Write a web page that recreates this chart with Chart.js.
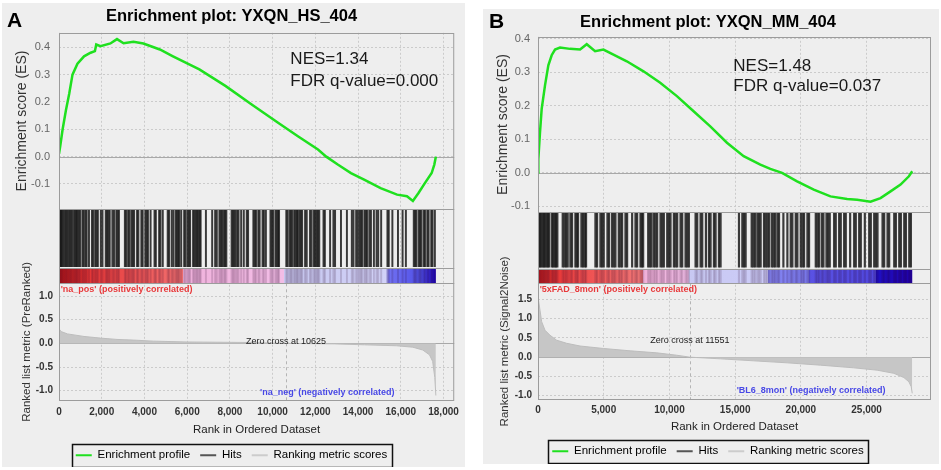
<!DOCTYPE html>
<html>
<head>
<meta charset="utf-8">
<script src="https://cdn.jsdelivr.net/npm/chart.js@4.4.1/dist/chart.umd.min.js"></script>
<style>
  body { margin: 0; background: #fff; width: 941px; height: 470px; position: relative; overflow: hidden; }
  .panel { position: absolute; background: #eeeeee; }
  .letter { position: absolute; font: bold 21px "Liberation Sans", Arial, sans-serif; color: #000; }
</style>
</head>
<body>
<div class="panel" style="left:2px;top:3px;width:463px;height:464px"><canvas id="chartA"></canvas></div>
<div class="panel" style="left:483px;top:9px;width:456px;height:455px"><canvas id="chartB"></canvas></div>
<div class="letter" style="left:7px;top:8px">A</div>
<div class="letter" style="left:489px;top:9px">B</div>
<script>
// Two GSEA enrichment plots.

// --- Panel A : YXQN_HS_404 (PreRanked) ---
const esRankA  = [0, 60, 170, 324, 478, 632, 864, 1172, 1480, 1681, 1744, 1943, 2406, 2715, 3023, 3486, 3950, 4720, 5335, 6570, 7806, 9036, 10272, 11200, 12123, 12509, 13048, 13665, 14282, 15053, 15824, 16287, 16565, 16828, 17134, 17444, 17568, 17640];
const esScoreA = [0.01, 0.04, 0.10, 0.17, 0.23, 0.30, 0.34, 0.367, 0.38, 0.386, 0.41, 0.404, 0.414, 0.43, 0.415, 0.42, 0.414, 0.392, 0.367, 0.319, 0.258, 0.19, 0.123, 0.074, 0.026, 0.0, -0.029, -0.06, -0.084, -0.115, -0.139, -0.145, -0.162, -0.133, -0.096, -0.06, -0.029, 0.0];
const hitRanksA = [46, 92, 139, 200, 262, 324, 385, 447, 509, 570, 632, 709, 771, 817, 863, 925, 987, 1095, 1156, 1233, 1295, 1403, 1542, 1603, 1696, 1758, 1819,
  1958, 2035, 2189, 2251, 2313, 2374, 2498, 2575, 2683, 2745, 2806, 3084, 3146, 3238, 3300, 3392, 3454, 3516, 3654, 3716, 3855, 3917, 4040, 4102, 4163, 4287,
  4472, 4533, 4687, 4749, 4857, 5088, 5150, 5273, 5351, 5458, 5520, 5582, 5628, 5721, 5859, 5921, 6014, 6075, 6137, 6276, 6337, 6399, 6461, 6522, 6584, 6630,
  6877, 7170, 7309, 7386, 7509, 7571, 7633, 7710, 7771, 7833, 8080, 8142, 8203, 8265, 8342, 8404, 8527, 8650, 8789, 8851, 9098, 9159, 9221, 9329, 9391, 9529,
  9591, 9684, 9899, 9961, 10023, 10131, 10192, 10254, 10300, 10640, 10701, 10794, 10855, 10917, 11010, 11071, 11133, 11179, 11256, 11318, 11380, 11519, 11596,
  11750, 11827, 11935, 11997, 12058, 12120, 12182, 12382, 12444, 12690, 12845, 12922, 13199, 13477, 13708, 13785, 13909, 13986, 14063, 14124, 14186, 14294,
  14356, 14417, 14525, 14602, 14741, 14865, 14942, 15080, 15374, 15435, 15605, 15867, 16083, 16237, 16607, 16669, 16730, 16838, 16900, 16962, 17069, 17131,
  17239, 17301, 17425, 17486, 17594];
const metricRankA  = [0, 100, 400, 1170, 1943, 2715, 3486, 4410, 6000, 8800, 10625, 12900, 14300, 15800, 16560, 17030, 17340, 17490, 17590, 17640];
const metricValueA = [0.31, 0.25, 0.20, 0.147, 0.112, 0.084, 0.07, 0.048, 0.03, 0.02, 0.0, -0.01, -0.03, -0.05, -0.08, -0.14, -0.24, -0.38, -0.72, -1.1];
const xTicksA   = [0, 2000, 4000, 6000, 8000, 10000, 12000, 14000, 16000, 18000];
const esTicksA  = [-0.1, 0, 0.1, 0.2, 0.3, 0.4];
const metTicksA = [-1, -0.5, 0, 0.5, 1];

// --- Panel B : YXQN_MM_404 (Signal2Noise) ---
const esRankB  = [0, 25, 152, 280, 533, 787, 1041, 1295, 1676, 2438, 3200, 3708, 4343, 4978, 5740, 6756, 8026, 9296, 10566, 11836, 13106, 14376, 15646, 16916, 17678, 18567, 19710, 20980, 22250, 23520, 24282, 25298, 26060, 26822, 27584, 28219, 28473];
const esScoreB = [0.0, 0.04, 0.12, 0.19, 0.26, 0.32, 0.35, 0.367, 0.373, 0.369, 0.367, 0.383, 0.362, 0.367, 0.352, 0.332, 0.302, 0.268, 0.228, 0.183, 0.138, 0.089, 0.049, 0.024, 0.011, -0.001, -0.026, -0.051, -0.071, -0.079, -0.081, -0.087, -0.076, -0.056, -0.036, -0.011, 0.004];
const hitRanksB = [50, 152, 254, 355, 457, 558, 660, 762, 863, 1066, 1168, 1270, 1371, 1473, 1879, 2006, 2133, 2260, 2463, 2590, 2844, 2946, 3048, 3302, 3429,
  3556, 3657, 4368, 4495, 4749, 4876, 5003, 5283, 5410, 5638, 5765, 5892, 6146, 6273, 6400, 6654, 6781, 7162, 7416, 7543, 7797, 7899, 8001, 8382, 8509, 8636,
  8813, 8940, 9067, 9321, 9448, 9575, 9829, 9956, 10083, 10337, 10464, 10591, 10845, 10972, 11226, 11353, 11480, 11988, 12115, 12369, 12496, 12776, 13004,
  13131, 13385, 13512, 13766, 13893, 15290, 15544, 15671, 15798, 16256, 16383, 16510, 16687, 16814, 16941, 17195, 17322, 17449, 17576, 17780, 17907, 18034,
  18211, 18338, 18669, 18973, 19227, 19354, 19608, 19735, 19989, 20116, 20243, 20497, 20624, 21132, 21259, 21386, 21590, 21717, 21945, 22072, 22199, 22529,
  22656, 22910, 23037, 23291, 23418, 23749, 24053, 24180, 24434, 24561, 24866, 25196, 25323, 25577, 25704, 25831, 26212, 26339, 26593, 26720, 27101, 27228,
  27482, 27609, 27863, 27990, 28244, 28371];
const metricRankB  = [0, 152, 280, 533, 914, 1422, 2184, 3200, 4978, 7010, 9042, 10566, 11551, 13868, 16408, 18948, 21488, 24027, 25806, 27076, 27838, 28219, 28397, 28473];
const metricValueB = [1.57, 1.22, 0.92, 0.70, 0.57, 0.44, 0.36, 0.29, 0.226, 0.165, 0.112, 0.05, 0.0, -0.043, -0.095, -0.147, -0.208, -0.277, -0.338, -0.42, -0.53, -0.64, -0.77, -0.94];
const xTicksB   = [0, 5000, 10000, 15000, 20000, 25000];
const esTicksB  = [-0.1, 0, 0.1, 0.2, 0.3, 0.4];
const metTicksB = [-1, -0.5, 0, 0.5, 1, 1.5];

const legendLabels = ['Enrichment profile', 'Hits', 'Ranking metric scores'];

const FONT = '"Liberation Sans", Arial, sans-serif';
const vert = '#1fe01f';
const grille = '#cbcbcb';
Chart.defaults.font.family = FONT;
Chart.defaults.animation = false;

// bande de couleur (rang -> couleur), dessinée sous les hits
const bandA = [[0, '#c01818'], [1500, '#e63838'], [5800, '#f27070'], [5801, '#f0b2dc'], [10550, '#f2bde6'], [10551, '#c6c6ee'],
  [15300, '#d2d2f8'], [15450, '#7070f0'], [16900, '#5050e8'], [17350, '#3424d0'], [17640, '#1a00b0']];
const bandB = [[0, '#c81c1c'], [2000, '#ee4040'], [8000, '#f07878'], [8001, '#f0b0d8'], [11450, '#eebbe4'], [11451, '#c8c8f2'],
  [17500, '#ccccf8'], [17501, '#8484f0'], [20600, '#7a7aee'], [20601, '#5a52e4'], [25700, '#5046dc'], [25701, '#2010c4'], [28473, '#2000a8']];

const gseaDecor = {
  id: 'gseaDecor',
  beforeDatasetsDraw(chart, args, o) {
    const { ctx, chartArea: a } = chart;
    const { x, es, hits, met } = chart.scales;
    ctx.save();
    const x0 = x.getPixelForValue(0), x1 = x.getPixelForValue(o.n);
    const g = ctx.createLinearGradient(x0, 0, x1, 0);
    o.band.forEach(([r, c]) => g.addColorStop(r / o.n, c));
    const bt = hits.getPixelForValue(o.bandTop), bb = hits.getPixelForValue(0);
    ctx.fillStyle = g;
    ctx.fillRect(x0, bt, x1 - x0, bb - bt);
    // lignes du zéro
    ctx.strokeStyle = '#a8a8a8';
    ctx.lineWidth = 1;
    [es, met].forEach((s) => {
      const y = Math.round(s.getPixelForValue(0)) + 0.5;
      ctx.beginPath(); ctx.moveTo(a.left, y); ctx.lineTo(a.right, y); ctx.stroke();
    });
    const zx = Math.round(x.getPixelForValue(o.zeroCross)) + 0.5;
    ctx.setLineDash([3, 3]);
    ctx.strokeStyle = '#b4b4b4';
    ctx.beginPath(); ctx.moveTo(zx, met.top); ctx.lineTo(zx, met.bottom); ctx.stroke();
    ctx.restore();
  },
  afterDatasetsDraw(chart, args, o) {
    const { ctx, chartArea: a } = chart;
    const { x, es, hits, met } = chart.scales;
    ctx.save();
    ctx.strokeStyle = '#9c9c9c';
    ctx.lineWidth = 1;
    [es, hits, met].forEach((s) => ctx.strokeRect(a.left + 0.5, Math.round(s.top) + 0.5, a.width - 1, Math.round(s.bottom - s.top)));
    const ly = Math.round(hits.getPixelForValue(o.bandTop)) + 0.5;
    ctx.beginPath(); ctx.moveTo(a.left, ly); ctx.lineTo(a.right, ly); ctx.stroke();

    ctx.textBaseline = 'middle';
    ctx.textAlign = 'left';
    ctx.fillStyle = '#1a1a1a';
    ctx.font = '17px ' + FONT;
    o.nes.forEach((t, i) => ctx.fillText(t, x.getPixelForValue(o.nesX), es.getPixelForValue(o.nesY[i])));

    ctx.font = 'bold 9px ' + FONT;
    ctx.fillStyle = '#e8383a';
    ctx.fillText(o.pos, x.getPixelForValue(o.posX), met.getPixelForValue(o.posY));
    ctx.textAlign = 'right';
    ctx.fillStyle = '#4848e6';
    ctx.fillText(o.neg, x.getPixelForValue(o.negX), met.getPixelForValue(o.negY));

    ctx.font = '9px ' + FONT;
    ctx.textAlign = 'center';
    ctx.fillStyle = '#222';
    ctx.fillText('Zero cross at ' + o.zeroCross, x.getPixelForValue(o.zeroCross), met.getPixelForValue(o.zeroY));
    ctx.restore();
  },
  afterDraw(chart) {
    const hb = chart.legend && chart.legend.legendHitBoxes;
    if (!hb || !hb.length) return;
    const { ctx } = chart;
    const l = Math.min(...hb.map((h) => h.left)) - 4;
    const r = Math.max(...hb.map((h) => h.left + h.width)) + 5;
    const t = hb[0].top - 5.5, b = hb[0].top + hb[0].height + 5.5;
    ctx.save();
    ctx.strokeStyle = '#111';
    ctx.lineWidth = 1.5;
    ctx.strokeRect(Math.round(l) + 0.5, Math.round(t) + 0.5, Math.round(r - l), Math.round(b - t));
    ctx.restore();
  },
};

const fixedTicks = (values) => (s) => { s.ticks = values.map((v) => ({ value: v })); };

function gseaChart(canvasId, p) {
  const dotted = { display: false, dash: [2, 2] };
  return new Chart(document.getElementById(canvasId), {
    data: {
      datasets: [
        {
          type: 'line', label: legendLabels[2], xAxisID: 'x', yAxisID: 'met',
          data: p.metricRank.map((r, i) => ({ x: r, y: p.metricValue[i] })),
          borderColor: '#bdbdbd', backgroundColor: '#c6c6c6', borderWidth: 1, fill: 'origin', pointRadius: 0, tension: 0,
        },
        {
          type: 'line', label: legendLabels[0], xAxisID: 'x', yAxisID: 'es',
          data: p.esRank.map((r, i) => ({ x: r, y: p.esScore[i] })),
          borderColor: vert, borderWidth: 2.5, pointRadius: 0, tension: 0, fill: false,
        },
        {
          type: 'bar', label: legendLabels[1], xAxisID: 'x', yAxisID: 'hits',
          data: p.hits.map((r) => ({ x: r, y: [0.225, 0.985] })),
          backgroundColor: 'rgba(18,18,18,0.82)', barThickness: p.barW, grouped: false, borderWidth: 0,
        },
        {
          type: 'bar', label: 'band', xAxisID: 'x', yAxisID: 'hits',
          data: p.hits.map((r) => ({ x: r, y: [0, 0.2] })),
          backgroundColor: 'rgba(40,0,40,0.16)', barThickness: p.barW, grouped: false, borderWidth: 0,
        },
      ],
    },
    options: {
      responsive: true,
      maintainAspectRatio: false,
      events: [],
      layout: { padding: { left: 2, right: p.padRight, top: 0, bottom: p.padBottom } },
      scales: {
        x: {
          type: 'linear', position: 'bottom', min: 0, max: p.xMax, offset: false,
          afterBuildTicks: fixedTicks(p.xTicks),
          afterFit: (s) => { s.height = p.xHeight; },
          grid: { color: grille, drawTicks: false, offset: false },
          border: dotted,
          ticks: {
            autoSkip: false, padding: p.xTickPad, color: '#333',
            font: { size: 10, weight: 'bold' }, maxRotation: 0,
            callback: (v) => v.toLocaleString('en-US'),
          },
          title: { display: true, text: 'Rank in Ordered Dataset', color: '#222', font: { size: 11.5 }, padding: { top: 0, bottom: p.xTitlePad } },
        },
        met: {
          type: 'linear', position: 'left', stack: 'gsea', stackWeight: p.wMet, min: p.metMin, max: p.metMax,
          afterBuildTicks: fixedTicks(p.metTicks),
          afterFit: (s) => { s.width = p.yWidth; },
          grid: { color: grille, drawTicks: false },
          border: dotted,
          ticks: { autoSkip: false, padding: 6, color: '#333', font: { size: 10, weight: 'bold' }, callback: (v) => v.toFixed(1) },
          title: { display: true, text: p.metricTitle, color: '#333', font: { size: 11.5 }, padding: { top: p.metTitlePad, bottom: 0 } },
        },
        hits: {
          type: 'linear', position: 'left', stack: 'gsea', stackWeight: p.wHits, min: 0, max: 1,
          afterFit: (s) => { s.width = p.yWidth; },
          grid: { display: false },
          border: { display: false },
          ticks: { display: false },
        },
        es: {
          type: 'linear', position: 'left', stack: 'gsea', stackWeight: p.wEs, min: p.esMin, max: p.esMax,
          afterBuildTicks: fixedTicks(p.esTicks),
          afterFit: (s) => { s.width = p.yWidth; },
          grid: { color: grille, drawTicks: false },
          border: dotted,
          ticks: { autoSkip: false, padding: p.esTickPad, color: '#666', font: { size: 11 }, callback: (v) => v.toFixed(1) },
          title: { display: true, text: 'Enrichment score (ES)', color: '#333', font: { size: 14 }, padding: { top: 9.6, bottom: 0 } },
        },
      },
      plugins: {
        title: {
          display: true, text: p.title, color: '#000',
          font: { size: 16.5, weight: 'bold' }, padding: { top: 4, bottom: p.titlePadBottom },
        },
        legend: {
          position: 'bottom',
          labels: {
            font: { size: 11.5 }, color: '#111', usePointStyle: true, pointStyleWidth: 16, padding: 10,
            generateLabels: () => legendLabels.map((t, i) => ({
              text: t, pointStyle: 'line', lineWidth: 2, hidden: false, datasetIndex: i,
              strokeStyle: [vert, '#555555', '#cccccc'][i], fillStyle: [vert, '#555555', '#cccccc'][i],
            })),
          },
        },
        tooltip: { enabled: false },
        gseaDecor: p.decor,
      },
    },
    plugins: [gseaDecor],
  });
}

gseaChart('chartA', {
  title: 'Enrichment plot: YXQN_HS_404',
  esRank: esRankA, esScore: esScoreA, hits: hitRanksA, metricRank: metricRankA, metricValue: metricValueA,
  xTicks: xTicksA, esTicks: esTicksA, metTicks: metTicksA,
  metricTitle: 'Ranked list metric (PreRanked)',
  xMax: 18500, esMin: -0.192, esMax: 0.453, metMin: -1.206, metMax: 1.27,
  wEs: 176, wHits: 74, wMet: 117, barW: 1.3,
  yWidth: 55, padRight: 6, padBottom: -4, xHeight: 39, xTickPad: 6, xTitlePad: 3,
  titlePadBottom: 6, esTickPad: 9, metTitlePad: 16.1,
  decor: {
    n: 17640, band: bandA, bandTop: 0.2, zeroCross: 10625, zeroY: 0.03,
    nes: ['NES=1.34', 'FDR q-value=0.000'], nesX: 10830, nesY: [0.355, 0.275],
    pos: "'na_pos' (positively correlated)", posX: 80, posY: 1.14,
    neg: "'na_neg' (negatively correlated)", negX: 15700, negY: -1.03,
  },
});

gseaChart('chartB', {
  title: 'Enrichment plot: YXQN_MM_404',
  esRank: esRankB, esScore: esScoreB, hits: hitRanksB, metricRank: metricRankB, metricValue: metricValueB,
  xTicks: xTicksB, esTicks: esTicksB, metTicks: metTicksB,
  metricTitle: 'Ranked list metric (Signal2Noise)',
  xMax: 29900, esMin: -0.118, esMax: 0.405, metMin: -1.10, metMax: 1.92,
  wEs: 175, wHits: 71, wMet: 116, barW: 1.5,
  yWidth: 53, padRight: 8, padBottom: -3, xHeight: 36, xTickPad: 5, xTitlePad: 2,
  titlePadBottom: 4, esTickPad: 8, metTitlePad: 13.1,
  decor: {
    n: 28473, band: bandB, bandTop: 0.2, zeroCross: 11551, zeroY: 0.44,
    nes: ['NES=1.48', 'FDR q-value=0.037'], nesX: 14860, nesY: [0.316, 0.257],
    pos: "'5xFAD_8mon' (positively correlated)", posX: 130, posY: 1.77,
    neg: "'BL6_8mon' (negatively correlated)", negX: 26440, negY: -0.86,
  },
});
</script>
</body>
</html>
